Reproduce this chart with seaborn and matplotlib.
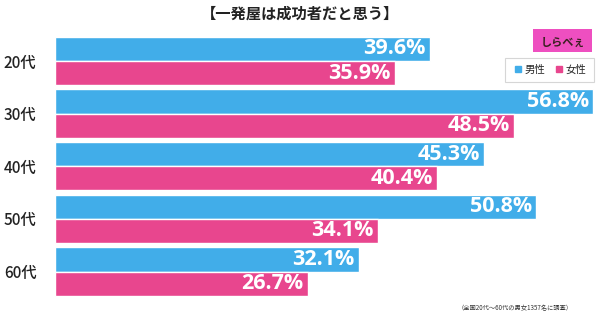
import matplotlib
matplotlib.use("Agg")
import matplotlib.pyplot as plt
import seaborn as sns
import pandas as pd
from matplotlib.patches import Rectangle
from matplotlib.lines import Line2D

sns.set_theme(style="white")
plt.rcParams['font.family'] = ['Noto Sans CJK JP', 'DejaVu Sans']

title = "【一発屋は成功者だと思う】"
categories = ["20代", "30代", "40代", "50代", "60代"]
series_names = ["男性", "女性"]
male = [39.6, 56.8, 45.3, 50.8, 32.1]
female = [35.9, 48.5, 40.4, 34.1, 26.7]
colors = ["#41ADE9", "#E8468E"]
footnote = "（全国20代～60代の男女1357名に調査）"
logo_text = "しらべぇ"

df = pd.DataFrame({
    "age": categories * 2,
    "sex": [series_names[0]] * 5 + [series_names[1]] * 5,
    "value": male + female,
})

fig = plt.figure(figsize=(6.0, 3.29), dpi=100)
ax = fig.add_axes([54.5 / 600, 0.0948, 1 - 54.5 / 600, 0.7997])
sns.barplot(data=df, y="age", x="value", hue="sex", order=categories,
            hue_order=series_names, palette=colors, orient="h",
            width=0.92, saturation=1, ax=ax, legend=False, errorbar=None)

ax.set_xlim(0, (600 - 54.5) / 9.48)
ax.set_ylim(4.5, -0.5)
for s in ax.spines.values():
    s.set_visible(False)
ax.set_xticks([])
ax.set_xlabel("")
ax.set_ylabel("")
ax.tick_params(axis="y", length=0, pad=13)
for lab in ax.get_yticklabels():
    lab.set_fontsize(11)
    lab.set_color("#222222")
    lab.set_fontweight("medium")

for cont in ax.containers:
    for bar in cont:
        w = bar.get_width()
        yc = bar.get_y() + bar.get_height() / 2
        ax.annotate(f"{w:.1f}%", xy=(w, yc), xytext=(-3, 0),
                    textcoords="offset points", ha="right", va="center",
                    color="white", fontsize=15.5, fontweight="bold",
                    family=["Open Sans", "DejaVu Sans"])

fig.text(0.5, 1 - 14 / 329, title, ha="center", va="center",
         fontsize=11, fontweight="bold", color="#222222")

# logo
fig.patches.append(Rectangle((533 / 600, 1 - 52 / 329), 59 / 600, 23 / 329,
                             transform=fig.transFigure, facecolor="#EE4FC0",
                             edgecolor="none", zorder=5))
fig.text(562.5 / 600, 1 - 42 / 329, logo_text, ha="center", va="center",
         fontsize=8, fontweight="bold", color="#3a2020", zorder=6)

# legend
handles = [Line2D([], [], marker="s", linestyle="none", markersize=5,
                  markerfacecolor=c, markeredgecolor=c) for c in colors]
leg = fig.legend(handles, series_names, loc="center",
                 bbox_to_anchor=(549.5 / 600, 1 - 70 / 329), ncol=2,
                 fontsize=7.5, frameon=True, fancybox=False, edgecolor="#cccccc",
                 handletextpad=0.1, columnspacing=0.9, borderpad=0.7,
                 handlelength=1.0)
leg.get_frame().set_linewidth(0.8)

fig.text(515 / 600, 1 - 308 / 329, footnote, ha="center", va="center",
         fontsize=4.5, color="#333333")

fig.savefig("out.png", dpi=100)
